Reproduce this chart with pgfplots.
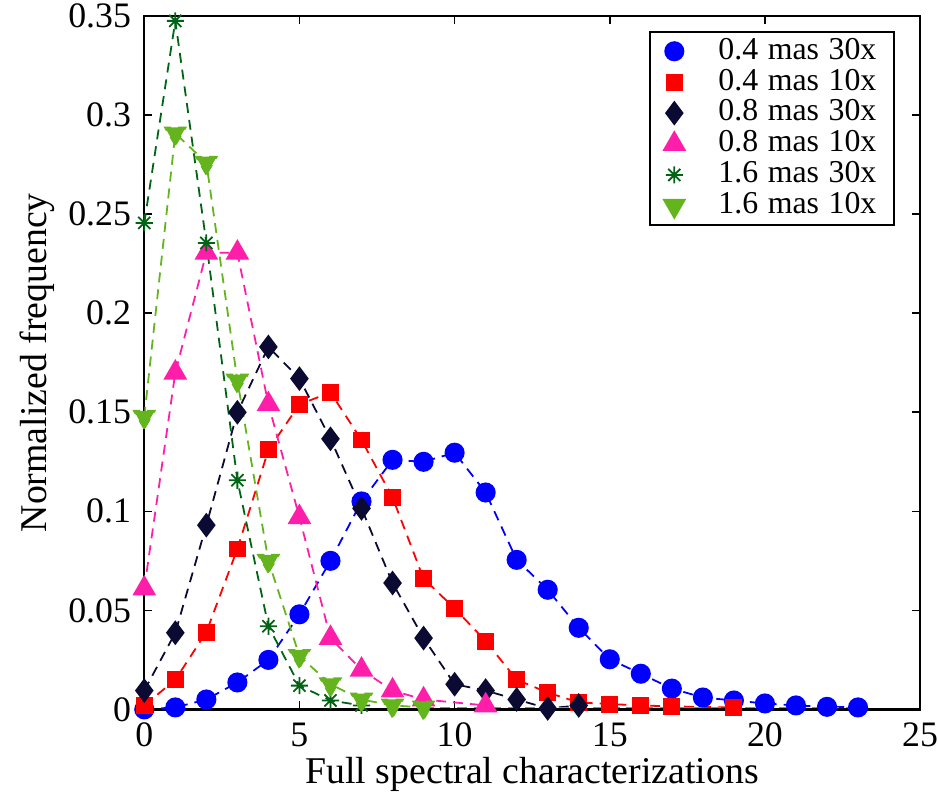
\documentclass[border=0pt]{standalone}
\usepackage{pgfplots}
\pgfplotsset{compat=1.18}
\usepackage{fontspec}
\setmainfont{Liberation Serif}
\usetikzlibrary{plotmarks}
\definecolor{c1}{RGB}{0,0,255}
\definecolor{c2}{RGB}{255,0,0}
\definecolor{c3}{RGB}{10,10,50}
\definecolor{c4}{RGB}{255,30,170}
\definecolor{c5}{RGB}{0,100,20}
\definecolor{c6}{RGB}{100,180,30}
% matlab-like 8 arm star
\pgfdeclareplotmark{mstar}{%
  \pgfpathmoveto{\pgfqpoint{-\pgfplotmarksize}{0pt}}\pgfpathlineto{\pgfqpoint{\pgfplotmarksize}{0pt}}%
  \pgfpathmoveto{\pgfqpoint{0pt}{-\pgfplotmarksize}}\pgfpathlineto{\pgfqpoint{0pt}{\pgfplotmarksize}}%
  \pgfpathmoveto{\pgfqpoint{-0.707\pgfplotmarksize}{-0.707\pgfplotmarksize}}\pgfpathlineto{\pgfqpoint{0.707\pgfplotmarksize}{0.707\pgfplotmarksize}}%
  \pgfpathmoveto{\pgfqpoint{-0.707\pgfplotmarksize}{0.707\pgfplotmarksize}}\pgfpathlineto{\pgfqpoint{0.707\pgfplotmarksize}{-0.707\pgfplotmarksize}}%
  \pgfusepathqstroke}
\newcommand{\lsp}{\hspace{0.05em}}
\begin{document}
\fontsize{18}{21}\selectfont
\begin{tikzpicture}
\begin{axis}[scale only axis, width=390pt, height=348.5pt,
  xmin=0, xmax=25, ymin=0, ymax=0.35,
  xtick={0,5,...,25}, ytick={0,0.05,...,0.35},
  yticklabels={0,0.05,0.1,0.15,0.2,0.25,0.3,0.35},
  tick align=inside, major tick length=4pt,
  axis line style={line width=1.2pt}, every tick/.style={black, line width=0.8pt},
  /pgf/number format/assume math mode=true,
  tick label style={font=\fontsize{18}{21}\selectfont, inner sep=0pt},
  xticklabel style={anchor=north, yshift=-6.5pt},
  yticklabel style={anchor=east, xshift=-6.5pt},
  label style={font=\fontsize{19}{22}\selectfont, inner sep=0pt},
  xlabel={Full spectral characterizations}, ylabel={Normalized frequency},
  xlabel style={at={(axis description cs:0.5,-0.069)}, anchor=north},
  ylabel style={at={(axis description cs:-0.115,0.5)}, anchor=south},
  legend style={font=\fontsize{16}{18}\selectfont, at={(0.968,0.9785)}, anchor=north east,
    draw=black, line width=1pt, inner xsep=7pt, inner ysep=1pt, row sep=-1.8pt,
    column sep=15pt},
  legend cell align=left,
  legend image code/.code={\draw[#1, solid] plot coordinates {(0pt,0pt)};},
  every axis plot/.append style={line width=0.9pt, dash pattern=on 5pt off 3.5pt, mark options={solid}},
]
\addplot[c1, mark=*, mark size=4.6pt] coordinates {(0,0) (1,0.001) (2,0.005) (3,0.0136) (4,0.025) (5,0.048) (6,0.075) (7,0.105) (8,0.126) (9,0.125) (10,0.1296) (11,0.1095) (12,0.0755) (13,0.0604) (14,0.0412) (15,0.0253) (16,0.018) (17,0.0105) (18,0.006) (19,0.0045) (20,0.003) (21,0.002) (22,0.0013) (23,0.001)};
\addlegendentry{0.4 \lsp mas \lsp 30x}
\addplot[c2, mark=square*, mark size=3.8pt] coordinates {(0,0.002) (1,0.015) (2,0.039) (3,0.081) (4,0.131) (5,0.154) (6,0.160) (7,0.136) (8,0.107) (9,0.066) (10,0.051) (11,0.0345) (12,0.015) (13,0.0085) (14,0.0035) (15,0.0027) (16,0.002) (17,0.0015) (19,0.001)};
\addlegendentry{0.4 \lsp mas \lsp 10x}
\addplot[c3, mark=diamond*, mark size=5.5pt] coordinates {(0,0.0095) (1,0.0387) (2,0.093) (3,0.150) (4,0.183) (5,0.167) (6,0.1366) (7,0.1015) (8,0.0638) (9,0.036) (10,0.0127) (11,0.0095) (12,0.005) (13,0.0005) (14,0.002)};
\addlegendentry{0.8 \lsp mas \lsp 30x}
\addplot[c4, mark=triangle*, mark size=6pt] coordinates {(0,0.061) (1,0.170) (2,0.2305) (3,0.2305) (4,0.154) (5,0.097) (6,0.036) (7,0.020) (8,0.0095) (9,0.005) (11,0.002)};
\addlegendentry{0.8 \lsp mas \lsp 10x}
\addplot[c5, mark=mstar, mark size=4.3pt] coordinates {(0,0.2456) (1,0.3476) (2,0.2355) (3,0.1157) (4,0.042) (5,0.012) (6,0.0045) (7,0.002)};
\addlegendentry{1.6 \lsp mas \lsp 30x}
\addplot[c6, mark=triangle*, mark size=6pt, mark options={rotate=180}] coordinates {(0,0.1477) (1,0.2908) (2,0.276) (3,0.166) (4,0.075) (5,0.027) (6,0.0127) (7,0.005) (8,0.002) (9,0.001)};
\addlegendentry{1.6 \lsp mas \lsp 10x}
\addplot[c6, forget plot] coordinates {(9,0.001) (23,0.001)};
\end{axis}
\path (current axis.outer north west) ++(-10pt,2pt);
\end{tikzpicture}
\end{document}
